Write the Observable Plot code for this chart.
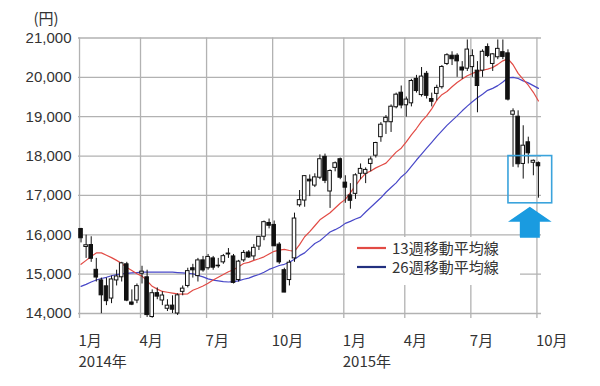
<!DOCTYPE html>
<html><head><meta charset="utf-8">
<script src="https://cdn.jsdelivr.net/npm/d3@7"></script>
<script src="https://cdn.jsdelivr.net/npm/@observablehq/plot@0.6"></script>
<style>
body{margin:0;background:#fff;}
#chart svg{display:block;}
</style></head><body><div id="chart"></div>
<script>
const weeks = ["2014-01-06","2014-01-13","2014-01-20","2014-01-27","2014-02-03","2014-02-10","2014-02-17","2014-02-24","2014-03-03","2014-03-10","2014-03-17","2014-03-24","2014-03-31","2014-04-07","2014-04-14","2014-04-21","2014-04-28","2014-05-05","2014-05-12","2014-05-19","2014-05-26","2014-06-02","2014-06-09","2014-06-16","2014-06-23","2014-06-30","2014-07-07","2014-07-14","2014-07-21","2014-07-28","2014-08-04","2014-08-11","2014-08-18","2014-08-25","2014-09-01","2014-09-08","2014-09-15","2014-09-22","2014-09-29","2014-10-06","2014-10-13","2014-10-20","2014-10-27","2014-11-03","2014-11-10","2014-11-17","2014-11-24","2014-12-01","2014-12-08","2014-12-15","2014-12-22","2014-12-29","2015-01-05","2015-01-12","2015-01-19","2015-01-26","2015-02-02","2015-02-09","2015-02-16","2015-02-23","2015-03-02","2015-03-09","2015-03-16","2015-03-23","2015-03-30","2015-04-06","2015-04-13","2015-04-20","2015-04-27","2015-05-04","2015-05-11","2015-05-18","2015-05-25","2015-06-01","2015-06-08","2015-06-15","2015-06-22","2015-06-29","2015-07-06","2015-07-13","2015-07-20","2015-07-27","2015-08-03","2015-08-10","2015-08-17","2015-08-24","2015-08-31","2015-09-07","2015-09-14","2015-09-21","2015-09-28"];
const open  = [16147,15690,15740,15110,14840,14690,14380,14840,14920,15250,14280,14330,15010,14920,13910,14517,14330,14120,14200,14000,14550,14700,15150,14950,15350,15150,15400,15200,15300,15500,15450,14850,15350,15550,15450,15700,15950,16300,16250,15750,15100,14850,15400,16750,16870,17400,17250,17450,17980,17100,17700,17920,17325,17000,17040,17550,17550,17800,18010,18480,18860,18860,19240,19610,19290,19340,19960,19550,20090,19450,19580,19750,20340,20550,20550,20250,20220,20260,20170,20170,20770,20340,20510,20640,20610,19050,19000,17800,18350,17830,17820];
const high  = [16164,15990,15950,15400,14900,14900,14950,15100,15300,15300,14600,14750,15200,15100,14600,14650,14550,14350,14450,14500,14700,15150,15250,15400,15450,15500,15450,15400,15500,15650,15500,15350,15600,15600,15750,15950,16350,16400,16350,15800,15150,15350,16550,17125,17500,17520,17550,18030,18050,17650,17850,17950,17500,17300,17550,17800,17700,17980,18350,18850,19030,19300,19600,19780,19500,19950,20050,20250,20150,19600,19800,20300,20600,20650,20600,20400,20950,20700,20400,20700,20850,20600,20950,20950,20700,19200,19150,18770,18480,17900,17850];
const low   = [15793,15400,15300,14800,13995,14200,14250,14700,14800,14300,14200,14250,14750,13900,13880,14350,14200,14050,14000,13950,14450,14650,14900,14800,15050,15100,15100,15150,15250,15400,14750,14800,15300,15400,15350,15600,15850,16150,15700,15250,14530,14700,15300,16700,16700,16970,17200,17400,17300,16670,17600,17400,16800,16650,16900,17400,17300,17600,17950,18350,18550,18600,19200,19200,18990,19250,19600,19500,19450,19250,19400,19700,20300,20300,20000,19950,20150,20000,19100,20000,20500,20150,20450,20450,19400,17714,17700,17415,17800,17500,16930];
const close = [15912,15734,15391,14914,14462,14313,14865,14941,15274,14327,14224,14696,15063,13960,14516,14429,14457,14199,14097,14462,14632,15077,15097,15349,15095,15437,15164,15215,15457,15523,14778,15318,15539,15424,15668,15948,16321,16229,15708,15300,14532,15291,16413,16880,17490,17357,17459,17920,17371,17621,17818,17450,17197,16864,17511,17674,17648,17913,18332,18797,18971,19254,19560,19285,19435,19907,19652,20020,19531,19379,19732,20264,20563,20460,20407,20174,20706,20539,19780,20650,20544,20585,20724,20519,19435,19136,17792,18264,18070,17880,17740];
const ma13 = [15250,15350,15450,15540,15540,15480,15420,15350,15270,15170,
15090,15010,14950,14830,14690,14620,14560,14540,14520,14500,
14490,14500,14590,14640,14700,14770,14850,14920,14990,15060,
15110,15190,15270,15300,15350,15390,15440,15510,15580,15610,
15630,15600,15580,15750,15950,16080,16230,16380,16470,16560,
16680,16800,16900,17070,17250,17420,17560,17620,17700,17760,
17820,17960,18100,18200,18360,18540,18700,18880,19020,19200,
19420,19560,19640,19760,19870,19960,20040,20100,20150,20180,
20210,20250,20330,20420,20470,20320,20100,19950,19800,19620,
19400];
const ma26 = [14690,14740,14800,14850,14890,14920,14960,14990,15010,15020,
15030,15040,15050,15050,15050,15050,15050,15050,15050,15040,
15030,15020,15010,14970,14930,14880,14850,14830,14810,14800,
14810,14830,14870,14900,14950,14990,15050,15120,15170,15220,
15250,15300,15380,15470,15540,15660,15780,15850,15960,16070,
16130,16200,16290,16340,16400,16450,16580,16700,16820,16940,
17080,17200,17320,17470,17580,17740,17900,18050,18200,18350,
18500,18640,18780,18900,19020,19150,19270,19380,19480,19570,
19670,19720,19790,19880,19990,20000,19970,19910,19860,19790,
19720];
const yTicks = [14000,15000,16000,17000,18000,19000,20000,21000];
const tickWeeks = ["2014-01-06","2014-03-31","2014-06-30","2014-09-29","2015-01-05","2015-03-30","2015-06-29","2015-09-28"];
const tickLabels = ["1月","4月","7月","10月","1月","4月","7月","10月"];
const yearWeeks = ["2014-01-06","2015-01-05"];
const yearLabels = ["2014年","2015年"];
const legendLabels = ["13週移動平均線","26週移動平均線"];
const unitLabel = "(円)";
const boxFromWeek = "2015-08-17", boxLow = 16800, boxHigh = 18000;

const red = "#e24b45", blue = "#4848c8", grid = "#b2b2b2", ink = "#111";
const data = weeks.map((w,i)=>({i, w, o:open[i], h:high[i], l:low[i], c:close[i], m13:ma13[i], m26:ma26[i]}));
const tickIdx = tickWeeks.map(w => weeks.indexOf(w) - 0.3);
const ticks = tickIdx.map((x,k)=>({x, label:tickLabels[k]}));
const years = yearWeeks.map((w,k)=>({x: weeks.indexOf(w) - 0.3, label:yearLabels[k]}));
const bx1 = weeks.indexOf(boxFromWeek) + 0.1;
const bx2 = weeks.length - 1 + 2.7;
const box = [{x1:bx1, x2:bx2, y1:boxLow, y2:boxHigh}];

const chart = Plot.plot({
  width:600, height:386,
  marginLeft:78, marginRight:59, marginTop:37.5, marginBottom:73,
  x:{type:"linear", domain:[-0.5, 90.6]},
  y:{domain:[14000,21000]},
  style:{fontFamily:"'Noto Sans CJK JP', sans-serif", background:"#fff", overflow:"visible", color:"#333"},
  marks:[
    Plot.gridY(yTicks, {stroke:grid, strokeOpacity:1, strokeWidth:1.3}),
    Plot.gridX(tickIdx, {stroke:grid, strokeOpacity:1, strokeWidth:1.3}),
    Plot.axisY(yTicks, {tickSize:0, tickPadding:7, tickFormat:d3.format(","), fontSize:15, fontFamily:"'Liberation Sans', Arial, sans-serif", fill:"#333"}),
    Plot.axisX(tickIdx, {tickSize:5, tickFormat:()=>"", stroke:grid, strokeWidth:1.3}),
    Plot.text(ticks, {x:"x", y:()=>14000, text:"label", dy:28, dx:-1, textAnchor:"start", fontSize:15, fill:"#333"}),
    Plot.text(years, {x:"x", y:()=>14000, text:"label", dy:49, dx:-1, textAnchor:"start", fontSize:15, fill:"#333"}),
    Plot.line(data, {x:"i", y:"m26", stroke:blue, strokeWidth:1.2}),
    Plot.line(data, {x:"i", y:"m13", stroke:red, strokeWidth:1.2}),
    Plot.ruleX(data, {x:"i", y1:"l", y2:"h", stroke:ink, strokeWidth:1}),
    Plot.rect(data.filter(d=>d.c>=d.o), {x1:d=>d.i-0.35, x2:d=>d.i+0.35, y1:"o", y2:"c", fill:"#fff", stroke:ink, strokeWidth:1}),
    Plot.rect(data.filter(d=>d.c<d.o), {x1:d=>d.i-0.35, x2:d=>d.i+0.35, y1:"o", y2:"c", fill:ink, stroke:ink, strokeWidth:1}),
    Plot.rect(box, {x1:"x1", x2:"x2", y1:"y1", y2:"y2", fill:"none", stroke:"#3aa3dc", strokeWidth:1.6})
  ]
});
document.getElementById("chart").appendChild(chart);

const svg = d3.select(chart);
const sx = chart.scale("x"), sy = chart.scale("y");
// unit label
svg.append("text").attr("x",46).attr("y",24).attr("text-anchor","middle")
  .attr("font-size",15).attr("fill","#333").attr("font-family","'Noto Sans CJK JP', sans-serif").text(unitLabel);
// arrow below highlight box
const cx = sx.apply((bx1+bx2)/2);
const tipY = sy.apply(boxLow) + 4, baseY = tipY + 15, botY = baseY + 16;
const hw = (sx.apply(bx2) - sx.apply(bx1))/2, sw = 10;
svg.append("polygon").attr("fill","#1a9be0")
  .attr("points",[[cx,tipY],[cx+hw,baseY],[cx+sw,baseY],[cx+sw,botY],[cx-sw,botY],[cx-sw,baseY],[cx-hw,baseY]].map(p=>p.join(",")).join(" "));
// legend
const lg = svg.append("g").attr("font-family","'Noto Sans CJK JP', sans-serif").attr("text-anchor","start");
lg.append("rect").attr("x",345).attr("y",237).attr("width",175).attr("height",48).attr("fill","#fff");
[[red,legendLabels[0],248],["#22307f",legendLabels[1],267]].forEach(([c,t,y])=>{
  lg.append("line").attr("x1",357).attr("x2",386).attr("y1",y).attr("y2",y).attr("stroke",c).attr("stroke-width",2.2);
  lg.append("text").attr("x",392).attr("y",y+5.5).attr("text-anchor","start").attr("font-size",15).attr("fill","#333").text(t);
});
</script></body></html>
